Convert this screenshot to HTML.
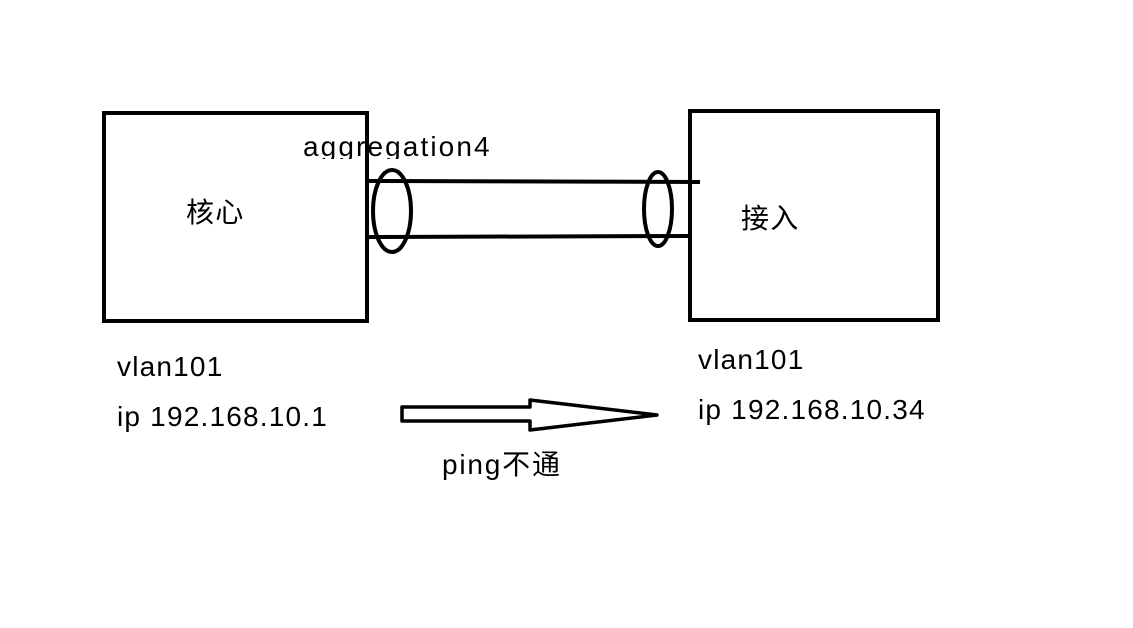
<!DOCTYPE html>
<html><head><style>
body{margin:0;width:1133px;height:628px;background:#fff;overflow:hidden;position:relative;font-family:"Liberation Sans","Noto Sans CJK SC",sans-serif;}
.t{position:absolute;font-size:28px;letter-spacing:1.2px;color:#000;white-space:nowrap;line-height:1;}
</style></head><body>
<svg width="1133" height="628" style="position:absolute;left:0;top:0">
<g fill="none" stroke="#000" stroke-width="4">
<rect x="104" y="113" width="263" height="208"/>
<rect x="690" y="111" width="248" height="209"/>
<line x1="367" y1="181" x2="700" y2="182"/>
<line x1="367" y1="237" x2="690" y2="236"/>
<ellipse cx="392" cy="211" rx="19" ry="41"/>
<ellipse cx="658" cy="209" rx="14" ry="37"/>
<polygon stroke-width="3.5" stroke-linejoin="round" points="402,407 530,407 530,400 657,415 530,430 530,421 402,421"/>
</g>
</svg>
<div class="t" style="left:303px;top:133px;height:26px;overflow:hidden;letter-spacing:2.1px">aggregation4</div>
<div class="t" style="left:186px;top:199px">核心</div>
<div class="t" style="left:741px;top:205px">接入</div>
<div class="t" style="left:117px;top:353px">vlan101</div>
<div class="t" style="left:117px;top:403px">ip 192.168.10.1</div>
<div class="t" style="left:698px;top:346px">vlan101</div>
<div class="t" style="left:698px;top:396px">ip 192.168.10.34</div>
<div class="t" style="left:442px;top:451px;letter-spacing:1.8px">ping不通</div>
</body></html>
